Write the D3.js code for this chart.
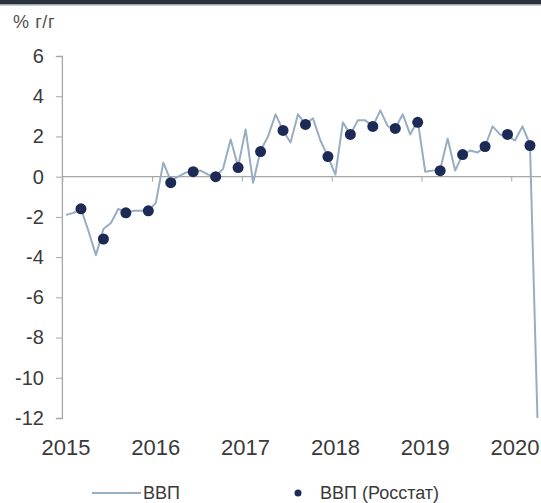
<!DOCTYPE html>
<html><head><meta charset="utf-8">
<script src="https://cdn.jsdelivr.net/npm/d3@7"></script>
<style>
html,body{margin:0;padding:0;background:#fff;}
svg{display:block;font-family:"Liberation Sans",Arial,sans-serif;}
</style></head>
<body>
<svg id="chart" width="541" height="503"></svg>
<script>
// Monthly GDP estimate, % y/y, Jan 2015 .. Apr 2020
const monthlyStart = [2015, 0];
const monthlyGDP = [
  -1.9, -1.8, -1.6, -2.7, -3.9, -2.6, -2.3, -1.6, -1.8, -1.7, -1.7, -1.7,
  -1.3, 0.7, -0.2, 0.0, 0.2, 0.3, 0.3, 0.1, 0.0, 0.4, 1.85, 0.5,
  2.35, -0.3, 1.3, 2.0, 3.1, 2.3, 1.7, 3.1, 2.6, 2.9, 1.8, 1.0,
  0.1, 2.7, 2.1, 2.8, 2.8, 2.5, 3.3, 2.5, 2.4, 3.1, 2.1, 2.8,
  0.25, 0.3, 0.35, 1.9, 0.3, 1.1, 1.3, 1.2, 1.5, 2.5, 2.1, 2.0,
  1.8, 2.5, 1.6, -12.0
];
// Rosstat quarterly GDP, % y/y, Q1 2015 .. Q1 2020 (plotted at quarter end month)
const quarterlyRosstat = [
  -1.6, -3.1, -1.8, -1.7,
  -0.3, 0.25, 0.0, 0.45,
  1.25, 2.3, 2.6, 1.0,
  2.1, 2.5, 2.4, 2.7,
  0.3, 1.1, 1.5, 2.1,
  1.55
];
const yearLabels = ["2015", "2016", "2017", "2018", "2019", "2020"];
const yTicks = [6, 4, 2, 0, -2, -4, -6, -8, -10, -12];
const unitLabel = "% г/г";
const seriesNames = ["ВВП", "ВВП (Росстат)"];

const svg = d3.select("#chart");
const lineColor = "#97adc2";
const dotColor = "#1c2a55";
const axisColor = "#a6a6a6";
const textColor = "#3a3a3a";

// month index scale (0 = Jan 2015)
const x = d3.scaleLinear().domain([0, 60]).range([66, 515]);
const y = d3.scaleLinear().domain([-12, 6]).range([418, 56]);

// top border
svg.append("rect").attr("x", 0).attr("y", 0).attr("width", 541).attr("height", 4).attr("fill", "#2a333d");
svg.append("rect").attr("x", 0).attr("y", 4).attr("width", 541).attr("height", 1.5).attr("fill", "#9aa3ad");

// unit label
svg.append("text").attr("x", 13).attr("y", 28).attr("font-size", 18).attr("fill", "#505050")
  .attr("letter-spacing", 0.6)
  .text(unitLabel);

// y axis
const yAxis = d3.axisLeft(y).tickValues(yTicks).tickSize(6).tickPadding(12).tickFormat(d3.format("d"));
const gy = svg.append("g").attr("transform", `translate(${x(-0.55)},0)`).call(yAxis);
gy.select(".domain").attr("stroke", axisColor).attr("stroke-width", 1.3);
gy.selectAll(".tick line").attr("stroke", axisColor);
gy.selectAll(".tick text").attr("font-size", 20).attr("fill", textColor)
  .attr("font-family", "Liberation Sans, Arial, sans-serif")
  .text(d => d < 0 ? "-" + Math.abs(d) : d);

// x axis at zero
const yearTicks = yearLabels.map((_, i) => i * 12 - 0.5);
const xAxis = d3.axisBottom(x).tickValues(yearTicks).tickSize(5).tickFormat("");
const gx = svg.append("g").attr("transform", `translate(0,${y(0)})`).call(xAxis);
gx.select(".domain").attr("stroke", axisColor).attr("stroke-width", 1.3)
  .attr("d", `M${x(-0.55)},0H541`);
gx.selectAll(".tick line").attr("stroke", axisColor);

// year labels at bottom
svg.append("g").selectAll("text").data(yearLabels).join("text")
  .attr("x", (d, i) => x(i * 12))
  .attr("y", 455)
  .attr("text-anchor", "middle")
  .attr("font-size", 22)
  .attr("fill", textColor)
  .text(d => d);

// monthly line
const line = d3.line().x((d, i) => x(i)).y(d => y(d));
svg.append("path").datum(monthlyGDP).attr("d", line)
  .attr("fill", "none").attr("stroke", lineColor).attr("stroke-width", 2).attr("stroke-linejoin", "round");

// quarterly dots
svg.append("g").selectAll("circle").data(quarterlyRosstat).join("circle")
  .attr("cx", (d, i) => x(i * 3 + 2))
  .attr("cy", d => y(d))
  .attr("r", 5.5)
  .attr("fill", dotColor);

// legend
const lg = svg.append("g");
lg.append("line").attr("x1", 92).attr("x2", 141).attr("y1", 493).attr("y2", 493)
  .attr("stroke", lineColor).attr("stroke-width", 2);
lg.append("text").attr("x", 143).attr("y", 499).attr("font-size", 18).attr("fill", textColor).text(seriesNames[0]);
lg.append("circle").attr("cx", 298).attr("cy", 493).attr("r", 3.5).attr("fill", dotColor);
lg.append("text").attr("x", 320).attr("y", 499).attr("font-size", 18).attr("fill", textColor).text(seriesNames[1]);
</script>
</body></html>
